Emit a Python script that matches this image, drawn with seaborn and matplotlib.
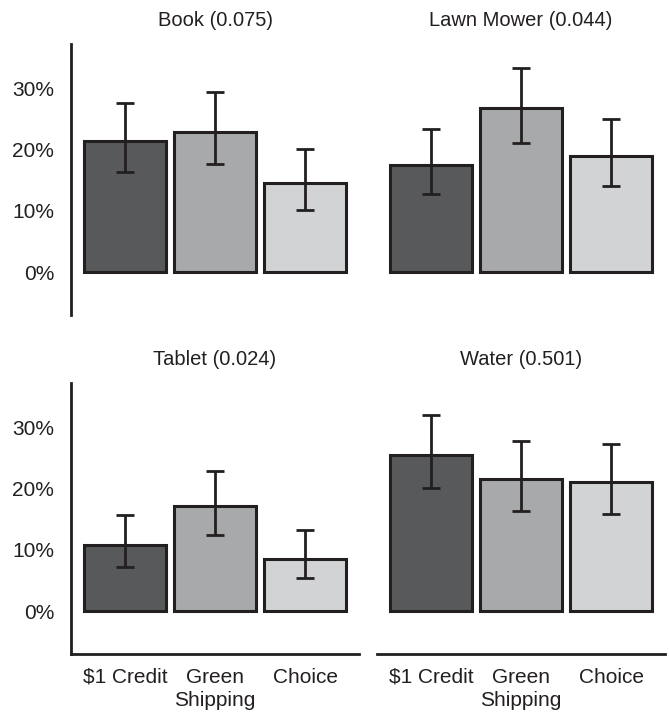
import matplotlib
matplotlib.use("Agg")
import matplotlib.pyplot as plt
import numpy as np
import pandas as pd
import seaborn as sns
from matplotlib.ticker import PercentFormatter

# data
conditions = ["$1 Credit", "Green\nShipping", "Choice"]
products = ["Book", "Lawn Mower", "Tablet", "Water"]
pvalues = [0.075, 0.044, 0.024, 0.501]

book = [0.213, 0.228, 0.145]
book_lo = [0.163, 0.176, 0.101]
book_hi = [0.275, 0.293, 0.200]

mower = [0.174, 0.268, 0.189]
mower_lo = [0.128, 0.211, 0.140]
mower_hi = [0.233, 0.333, 0.249]

tablet = [0.107, 0.172, 0.085]
tablet_lo = [0.072, 0.124, 0.054]
tablet_hi = [0.156, 0.229, 0.132]

water = [0.255, 0.215, 0.210]
water_lo = [0.200, 0.163, 0.159]
water_hi = [0.320, 0.278, 0.272]

means = [book, mower, tablet, water]
lows = [book_lo, mower_lo, tablet_lo, water_lo]
highs = [book_hi, mower_hi, tablet_hi, water_hi]

colors = ["#58595b", "#a7a9ac", "#d1d3d4"]
ink = "#231f20"

sns.set_style("white")
plt.rcParams['font.family'] = ['Liberation Sans', 'DejaVu Sans']

fig = plt.figure(figsize=(6.69, 7.15), dpi=100)
W, H = 669, 715
boxes = [(71, 44), (377, 44), (71, 383), (377, 383)]
aw, ah = 288, 271

for i, prod in enumerate(products):
    x0, y0 = boxes[i]
    ax = fig.add_axes([x0 / W, 1 - (y0 + ah) / H, aw / W, ah / H])
    df = pd.DataFrame({"cond": conditions, "share": means[i]})
    sns.barplot(data=df, x="cond", y="share", hue="cond", palette=colors,
                order=conditions, hue_order=conditions, errorbar=None,
                width=0.91, edgecolor=ink, linewidth=2.2, legend=False, ax=ax)
    m = np.array(means[i])
    yerr = [m - np.array(lows[i]), np.array(highs[i]) - m]
    ax.errorbar(np.arange(len(conditions)), m, yerr=yerr, fmt="none",
                ecolor=ink, elinewidth=2, capsize=6.5, capthick=2)
    ax.set_xlim(-0.6, 2.6)
    ax.set_ylim(-0.07, 0.372)
    ax.set_yticks([0, 0.1, 0.2, 0.3])
    ax.yaxis.set_major_formatter(PercentFormatter(1.0, decimals=0))
    ax.set_xlabel("")
    ax.set_ylabel("")
    ax.set_title(f"{prod} ({pvalues[i]:.3f})", fontsize=14.5, color=ink, pad=13)
    ax.tick_params(axis="both", length=0, labelsize=15, labelcolor=ink)
    ax.tick_params(axis="y", pad=12)
    ax.tick_params(axis="x", pad=10)
    for s in ax.spines.values():
        s.set_visible(False)
        s.set_color(ink)
        s.set_linewidth(2)
    if i % 2 == 0:
        ax.spines["left"].set_visible(True)
    else:
        ax.set_yticklabels([])
    if i >= 2:
        ax.spines["bottom"].set_visible(True)
        for lab in ax.get_xticklabels():
            lab.set_linespacing(1.25)
    else:
        ax.set_xticklabels([])

fig.savefig("out.png", dpi=100)
